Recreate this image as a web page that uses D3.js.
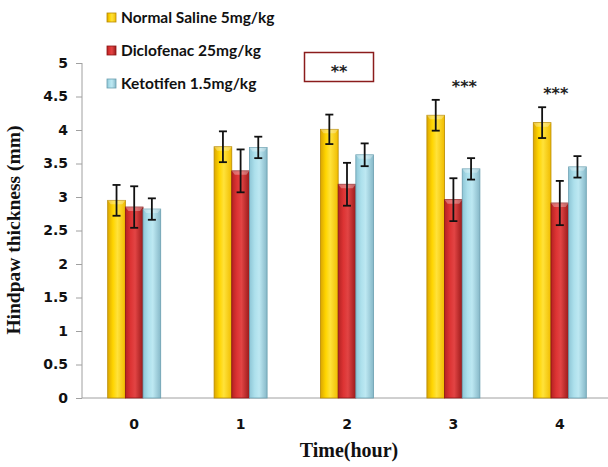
<!DOCTYPE html>
<html><head><meta charset="utf-8">
<script src="https://cdn.jsdelivr.net/npm/d3@7"></script>
<style>body{margin:0;background:#fff}svg{display:block}</style>
</head><body>
<svg id="c" width="608" height="467"></svg>
<script>
const categories = ["0","1","2","3","4"];
const seriesNames = ["Normal Saline 5mg/kg","Diclofenac 25mg/kg","Ketotifen 1.5mg/kg"];
const salineMean = [2.95,3.75,4.01,4.22,4.11];
const salineErr  = [0.23,0.23,0.22,0.23,0.23];
const diclofenacMean = [2.85,3.39,3.19,2.96,2.91];
const diclofenacErr  = [0.31,0.32,0.32,0.32,0.33];
const ketotifenMean = [2.82,3.74,3.63,3.42,3.45];
const ketotifenErr  = [0.16,0.16,0.17,0.16,0.16];
const yTicks = [0,0.5,1,1.5,2,2.5,3,3.5,4,4.5,5];
const yTickLabels = ["0","0.5","1","1.5","2","2.5","3","3.5","4","4.5","5"];
const sigCats = ["3","4"];
const sigText = ["***","***"];
const boxLabel = "**";

const series = [
  {name:seriesNames[0], mean:salineMean, err:salineErr, id:"g0",
   c:["#dba600","#ffd500","#ffe23a","#f0bc00"], stroke:"#b88a00"},
  {name:seriesNames[1], mean:diclofenacMean, err:diclofenacErr, id:"g1",
   c:["#b52222","#dd3434","#e24444","#9a1a1a"], stroke:"#8a1515"},
  {name:seriesNames[2], mean:ketotifenMean, err:ketotifenErr, id:"g2",
   c:["#8ec6d6","#ade0ec","#bde8f2","#86b8c8"], stroke:"#6a9fb0"}
];

const svg = d3.select("#c");
const defs = svg.append("defs");
series.forEach(s=>{
  const g = defs.append("linearGradient").attr("id",s.id).attr("x1","0").attr("x2","1").attr("y1","0").attr("y2","0");
  g.append("stop").attr("offset","0").attr("stop-color",s.c[0]);
  g.append("stop").attr("offset","0.3").attr("stop-color",s.c[1]);
  g.append("stop").attr("offset","0.55").attr("stop-color",s.c[2]);
  g.append("stop").attr("offset","1").attr("stop-color",s.c[3]);
});

const x0 = d3.scaleBand().domain(categories).range([81,613]).paddingInner(0).paddingOuter(0);
const groupW = 53;
const x1 = d3.scaleBand().domain(d3.range(3)).range([-groupW/2, groupW/2]).padding(0);
const y = d3.scaleLinear().domain([0,5]).range([398,63]);

// axes
const yAxis = d3.axisLeft(y).tickValues(yTicks).tickFormat((d,i)=>yTickLabels[i]).tickSize(6).tickPadding(8);
const gy = svg.append("g").attr("transform","translate(82,0)").call(yAxis);
gy.select(".domain").attr("stroke","#a0a0a0").attr("d","M0,63V398");
gy.selectAll(".tick line").attr("stroke","#a0a0a0");
gy.selectAll("text").attr("font-family","DejaVu Sans").attr("font-weight","bold").attr("font-size","14px").attr("fill","#111");

svg.append("line").attr("x1",82).attr("x2",608).attr("y1",y(0)).attr("y2",y(0)).attr("stroke","#a0a0a0").attr("stroke-width",1);

const xAxis = d3.axisBottom(x0).tickSize(0).tickPadding(21);
const gx = svg.append("g").attr("transform",`translate(0,${y(0)})`).call(xAxis);
gx.select(".domain").remove();
gx.selectAll("text").attr("font-family","DejaVu Sans").attr("font-weight","bold").attr("font-size","14px").attr("fill","#111");

// bars
const cx = c => x0(c) + x0.bandwidth()/2;
series.forEach((s,si)=>{
  const g = svg.append("g");
  categories.forEach((c,i)=>{
    const bx = cx(c) + x1(si);
    const bw = x1.bandwidth();
    g.append("rect").attr("x",bx).attr("y",y(s.mean[i])).attr("width",bw).attr("height",y(0)-y(s.mean[i]))
      .attr("fill",`url(#${s.id})`).attr("stroke",s.stroke).attr("stroke-width",0.8);
    g.append("path").attr("d",`M${bx},${y(s.mean[i])}L${bx+bw},${y(s.mean[i])}L${bx+bw-3},${y(s.mean[i])+4}L${bx+3},${y(s.mean[i])+4}Z`)
      .attr("fill","#fff").attr("opacity",0.3);
  });
});
// error bars
series.forEach((s,si)=>{
  categories.forEach((c,i)=>{
    const ex = cx(c) + x1(si) + x1.bandwidth()/2;
    const t = y(s.mean[i]+s.err[i]), b = y(s.mean[i]-s.err[i]);
    const eg = svg.append("g").attr("stroke","#111").attr("stroke-width",1.8);
    eg.append("line").attr("x1",ex).attr("x2",ex).attr("y1",t).attr("y2",b);
    eg.append("line").attr("x1",ex-4).attr("x2",ex+4).attr("y1",t).attr("y2",t);
    eg.append("line").attr("x1",ex-4).attr("x2",ex+4).attr("y1",b).attr("y2",b);
  });
});

// significance stars
const starDx = [11, -4];
sigCats.forEach((c,k)=>{
  const i = categories.indexOf(c);
  const top = salineMean[i]+salineErr[i];
  svg.append("text").attr("x",cx(c)+starDx[k]).attr("y",y(top)-8).attr("text-anchor","middle")
    .attr("font-family","DejaVu Sans").attr("font-weight","bold").attr("font-size","16px").attr("fill","#222").text(sigText[k]);
});

// boxed label
svg.append("rect").attr("x",304.5).attr("y",52.5).attr("width",69).attr("height",29).attr("fill","#fff").attr("stroke","#8b1c1c").attr("stroke-width",1.5);
svg.append("text").attr("x",339).attr("y",77).attr("text-anchor","middle")
  .attr("font-family","DejaVu Sans").attr("font-weight","bold").attr("font-size","16px").attr("fill","#222").text(boxLabel);

// legend
const leg = svg.append("g");
series.forEach((s,i)=>{
  const ly = 18 + i*33;
  leg.append("rect").attr("x",107).attr("y",ly-5).attr("width",9).attr("height",9).attr("fill",`url(#${s.id})`).attr("stroke",s.stroke).attr("stroke-width",0.8);
  leg.append("text").attr("x",121).attr("y",ly+5).attr("font-family","Lato").attr("font-weight","bold").attr("font-size","15.5px").attr("fill","#111").text(s.name);
});

// axis titles
svg.append("text").attr("transform","translate(20,230) rotate(-90)").attr("text-anchor","middle")
  .attr("font-family","Liberation Serif").attr("font-weight","bold").attr("font-size","19.5px").attr("fill","#111").text("Hindpaw thickness (mm)");
svg.append("text").attr("x",349).attr("y",457).attr("text-anchor","middle")
  .attr("font-family","Liberation Serif").attr("font-weight","bold").attr("font-size","20px").attr("fill","#111").text("Time(hour)");
</script>
</body></html>
